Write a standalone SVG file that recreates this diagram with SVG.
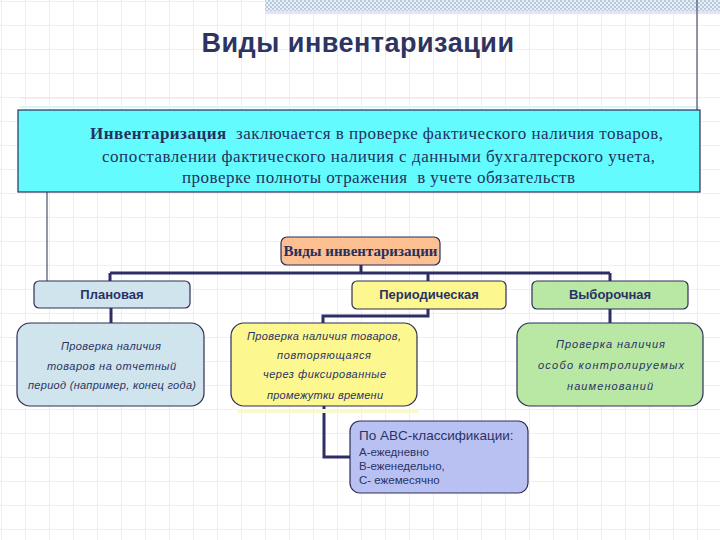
<svg xmlns="http://www.w3.org/2000/svg" width="720" height="540" viewBox="0 0 720 540">
<defs>
<pattern id="grid" x="1" y="1" width="24" height="24" patternUnits="userSpaceOnUse">
<path d="M0 0H24M0 0V24" fill="none" stroke="#e2e2ea" stroke-width="1.2"/>
</pattern>
<pattern id="check" width="4" height="4" patternUnits="userSpaceOnUse">
<rect width="4" height="4" fill="#e6eef6"/>
<rect width="2" height="2" fill="#b8cadc"/>
<rect x="2" y="2" width="2" height="2" fill="#b8cadc"/>
</pattern>
<style>
.title{font-family:"Liberation Sans",Arial,sans-serif;font-weight:bold;font-size:27px;letter-spacing:0.5px;fill:#2e3462}
.serif{font-family:"Liberation Serif","Times New Roman",serif;fill:#25305e}
.head{font-family:"Liberation Sans",Arial,sans-serif;font-weight:bold;font-size:13px;fill:#2b3264;text-anchor:middle}
.desc{font-family:"Liberation Sans",Arial,sans-serif;font-style:italic;font-size:11px;fill:#2b3264}
.abc{font-family:"Liberation Sans",Arial,sans-serif;fill:#2b3264}
.box{stroke:#2e2e58;stroke-width:1.2}
.conn{fill:none;stroke:#2e2e66;stroke-width:3}
.thin{fill:none;stroke:#4a5070;stroke-width:1.2}
</style>
</defs>
<rect width="720" height="540" fill="#ffffff"/>
<rect width="720" height="540" fill="url(#grid)"/>
<rect x="265" y="0" width="455" height="11" fill="url(#check)"/>
<rect x="265" y="11" width="455" height="3" fill="#e4e4f6"/>
<line x1="20" y1="98" x2="700" y2="98" stroke="#f4dcea" stroke-width="1"/>
<line x1="20" y1="107" x2="700" y2="107" stroke="#d8f4f8" stroke-width="2"/>

<g id="title">
<text class="title" x="358" y="52" text-anchor="middle">Виды инвентаризации</text>
</g>

<g id="connectors">
<path class="thin" d="M697 0V110"/>
<path class="thin" d="M47 192V281"/>
<path class="conn" d="M361 265V273M110 273H610M110 273V281M428 273V281M610 273V281"/>
<path class="conn" d="M111 308V323"/>
<path class="conn" d="M428 309V316H323V323"/>
<path class="conn" d="M610 309V323"/>
<path class="conn" d="M324 406V457H350"/>
</g>

<g id="definition">
<rect class="box" x="18" y="110" width="682" height="82" fill="#64fbff"/>
<text class="serif" x="90" y="139" font-size="17" textLength="573" lengthAdjust="spacing"><tspan font-weight="bold">Инвентаризация</tspan>&#160; заключается в проверке фактического наличия товаров,</text>
<text class="serif" x="102" y="162" font-size="17" textLength="553" lengthAdjust="spacing">сопоставлении фактического наличия с данными бухгалтерского учета,</text>
<text class="serif" x="182" y="183" font-size="17" textLength="393" lengthAdjust="spacing">проверке полноты отражения&#160; в учете обязательств</text>
</g>

<g id="types-root">
<rect class="box" x="281" y="237" width="159" height="28" rx="6" fill="#fbbf92"/>
<text class="serif" x="360.5" y="256" font-size="15" font-weight="bold" text-anchor="middle">Виды инвентаризации</text>
</g>

<g id="planned">
<rect class="box" x="34" y="281" width="156" height="27" rx="5" fill="#cfe4ec"/>
<text class="head" x="112" y="299">Плановая</text>
</g>

<g id="periodic">
<rect class="box" x="352" y="281" width="154" height="28" rx="5" fill="#fdf790"/>
<text class="head" x="429" y="299">Периодическая</text>
</g>

<g id="selective">
<rect class="box" x="532" y="281" width="156" height="28" rx="5" fill="#b8e8a4"/>
<text class="head" x="610" y="299">Выборочная</text>
</g>

<g id="planned-desc">
<rect class="box" x="17" y="323" width="187" height="83" rx="13" fill="#cfe4ec"/>
<text class="desc" x="61" y="350" textLength="100" lengthAdjust="spacing">Проверка наличия</text>
<text class="desc" x="47" y="370" textLength="129" lengthAdjust="spacing">товаров на отчетный</text>
<text class="desc" x="28" y="389" textLength="168" lengthAdjust="spacing">период (например, конец года)</text>
</g>

<g id="periodic-desc">
<rect x="238" y="409" width="180" height="4" fill="#fbf8cc"/>
<rect class="box" x="231" y="323" width="186" height="83" rx="13" fill="#fdf790"/>
<text class="desc" x="247" y="340" textLength="154" lengthAdjust="spacing">Проверка наличия товаров,</text>
<text class="desc" x="277" y="359" textLength="94" lengthAdjust="spacing">повторяющаяся</text>
<text class="desc" x="263" y="378" textLength="123" lengthAdjust="spacing">через фиксированные</text>
<text class="desc" x="267" y="399" textLength="116" lengthAdjust="spacing">промежутки времени</text>
</g>

<g id="selective-desc">
<rect class="box" x="517" y="323" width="186" height="83" rx="13" fill="#b8e8a4"/>
<text class="desc" x="556" y="348" textLength="109" lengthAdjust="spacing">Проверка наличия</text>
<text class="desc" x="538" y="369" textLength="146" lengthAdjust="spacing">особо контролируемых</text>
<text class="desc" x="567" y="390" textLength="86" lengthAdjust="spacing">наименований</text>
</g>

<g id="abc">
<rect class="box" x="350" y="421" width="178" height="72" rx="10" fill="#b9c1f2"/>
<text class="abc" x="359" y="440" font-size="13.5">По ABC-классификации:</text>
<text class="abc" x="359" y="456" font-size="11.5">А-ежедневно</text>
<text class="abc" x="359" y="470" font-size="11.5">В-еженедельно,</text>
<text class="abc" x="359" y="484" font-size="11.5">С- ежемесячно</text>
</g>
</svg>
